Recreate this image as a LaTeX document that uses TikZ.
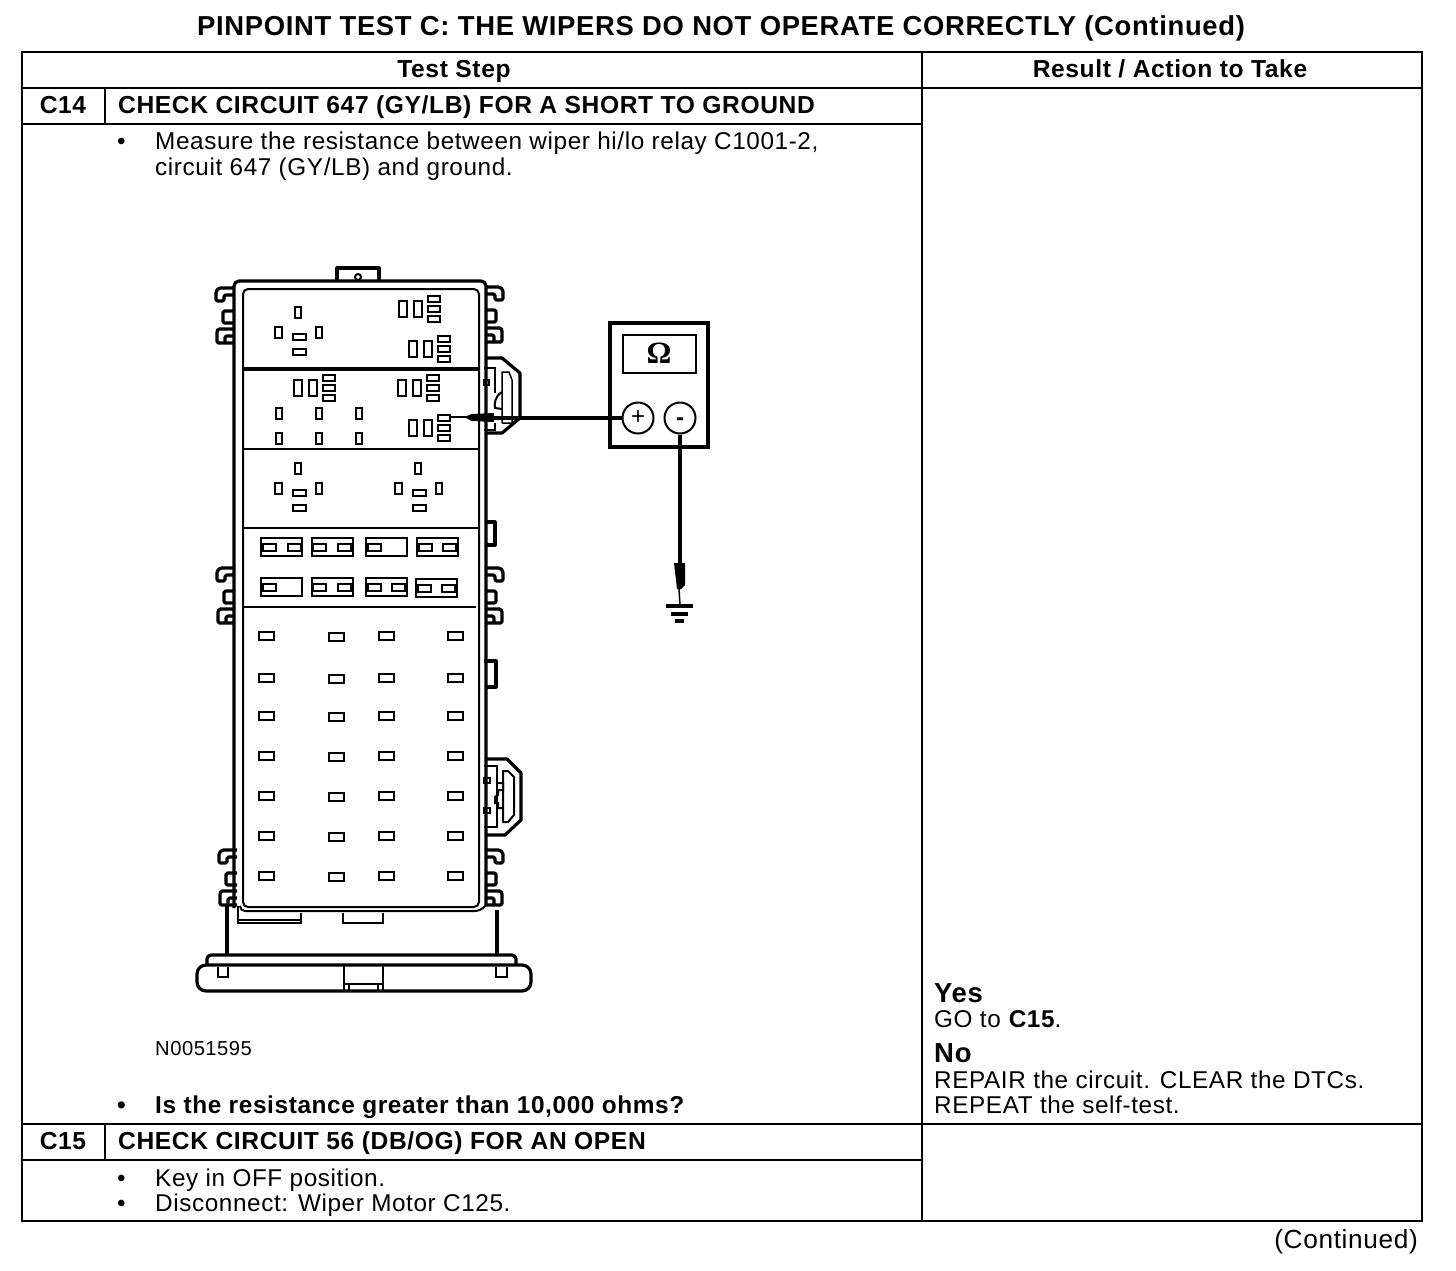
\documentclass[tikz,border=0pt]{standalone}
\usepackage{fontspec}
\setmainfont{Liberation Sans}[LetterSpace=2.5]
\newfontfamily\omegafont{Liberation Serif}
\tikzset{
  rule/.style={line width=2pt},
  txt/.style={anchor=base west, inner sep=0pt, font=\fontsize{24.3}{28}\selectfont},
  boldtxt/.style={txt, font=\fontsize{24.6}{28}\selectfont\bfseries},
  midtxt/.style={boldtxt, anchor=base},
  wall/.style={line width=3.2pt, line join=round},
  fine/.style={line width=1.5pt},
  pinbox/.style={line width=2pt},
}
% slot centred on x,y
\newcommand{\slot}[4]{\draw[pinbox] ({#1-#3/2},{#2-#4/2}) rectangle ({#1+#3/2},{#2+#4/2});}
\newcommand{\relaya}[2]{
  \slot{#1}{#2-20}{6}{11}
  \slot{#1-20}{#2}{7}{11}
  \slot{#1+21}{#2}{6}{11}
  \slot{#1+1}{#2+4.5}{13}{6}
  \slot{#1+1}{#2+20}{13}{6}
}
\newcommand{\relayb}[2]{
  \slot{#1}{#2}{8}{16}
  \slot{#1+15}{#2}{8}{16}
  \slot{#1+31}{#2-10}{12}{6}
  \slot{#1+31}{#2}{12}{6}
  \slot{#1+31}{#2+10}{12}{6}
}
% clips on the wall, sx=1 left side, sx=-1 right side
\newcommand{\clipset}[3]{
  \begin{scope}[shift={(#1,#2)}, xscale=#3, wall, rounded corners=1.5pt]
    \draw (0,0) -- (-15,0) -- (-18,3) -- (-18,13) -- (-10,13) -- (-10,7) -- (0,7);
    \draw (0,23) -- (-11,23) -- (-11,35) -- (0,35);
    \draw (0,41) -- (-16,41) -- (-17,43) -- (-17,55) -- (0,55);
    \draw (0,48) -- (-9,48) -- (-9,55);
  \end{scope}
}
\begin{document}
\begin{tikzpicture}[x=1pt, y=-1pt]
  \useasboundingbox (0,0) rectangle (1456,1270);

  % table
  \draw[rule] (22,52) rectangle (1422,1221);
  \draw[rule] (22,88) -- (1422,88);
  \draw[rule] (22,124) -- (922,124);
  \draw[rule] (22,1124) -- (1422,1124);
  \draw[rule] (22,1160) -- (922,1160);
  \draw[rule] (922,52) -- (922,1221);
  \draw[rule] (105,88) -- (105,124);
  \draw[rule] (105,1124) -- (105,1160);

  % text
  \node[midtxt, font=\fontsize{27.4}{30}\selectfont\bfseries] (title) at (721,35) {PINPOINT TEST C: THE WIPERS DO NOT OPERATE CORRECTLY (Continued)};
  \node[midtxt] (stephead) at (454,77) {Test Step};
  \node[midtxt] (resulthead) at (1170,77) {Result / Action to Take};
  \node[midtxt] (cfourteen) at (63,113) {C14};
  \node[boldtxt] (checkshort) at (118,113) {CHECK CIRCUIT 647 (GY/LB) FOR A SHORT TO GROUND};
  \node[txt] (bulleta) at (117,149) {•};
  \node[txt] (measurea) at (155,149) {Measure the resistance between wiper hi/lo relay C1001-2,};
  \node[txt] (measureb) at (155,175) {circuit 647 (GY/LB) and ground.};
  \node[txt, font=\fontsize{20.2}{23}\selectfont] (partno) at (155,1055) {N0051595};
  \node[boldtxt] (bulletb) at (117,1113) {•};
  \node[boldtxt, font=\fontsize{24.4}{28}\selectfont\bfseries] (question) at (155,1113) {Is the resistance greater than 10,000 ohms?};
  \node[boldtxt, font=\fontsize{27.5}{32}\selectfont\bfseries] (yes) at (934,1002) {Yes};
  \node[txt] (gotoc) at (934,1027) {GO to \textbf{C15}.};
  \node[boldtxt, font=\fontsize{27.5}{32}\selectfont\bfseries] (no) at (934,1062) {No};
  \node[txt] (repair) at (934,1088) {REPAIR the circuit. CLEAR the DTCs.};
  \node[txt] (repeat) at (934,1113) {REPEAT the self-test.};
  \node[midtxt] (cfifteen) at (63,1149) {C15};
  \node[boldtxt] (checkopen) at (118,1149) {CHECK CIRCUIT 56 (DB/OG) FOR AN OPEN};
  \node[txt] (bulletc) at (117,1186) {•};
  \node[txt] (keyin) at (155,1186) {Key in OFF position.};
  \node[txt] (bulletd) at (117,1211) {•};
  \node[txt] (disconnect) at (155,1211) {Disconnect: Wiper Motor C125.};
  \node[txt, anchor=base east, font=\fontsize{26.2}{30}\selectfont] (contd) at (1418,1248) {(Continued)};

  % fuse box walls
  \draw[wall, rounded corners=5pt] (234,908) -- (234,281) -- (486,281) -- (486,905);
  \draw[pinbox, rounded corners=5pt] (243,289) rectangle (479,907);
  \draw[pinbox, rounded corners=5pt] (240,906) -- (240,911) -- (480,911) -- (486,905);
  \draw[wall] (337,281) -- (337,268) -- (379,268) -- (379,281);
  \draw[pinbox] (358,277) circle (3);
  \draw[wall] (243,369) -- (479,369);
  \draw[pinbox] (243,449) -- (479,449);
  \draw[fine] (243,528) -- (479,528);
  \draw[pinbox] (243,607) -- (476,607);

  % clips and side tabs
  \clipset{234}{288}{1}
  \clipset{235}{568}{1}
  \clipset{237}{850}{1}
  \clipset{485}{287}{-1}
  \clipset{485}{568}{-1}
  \clipset{485}{850}{-1}
  \draw[wall] (485,522) -- (495,522) -- (495,545) -- (485,545);
  \draw[wall] (484,661) -- (496,661) -- (496,687) -- (485,687);

  % upper connector
  \draw[wall] (486,358) -- (502,358) -- (520,373) -- (520,418) -- (502,433) -- (486,433);
  \draw[fine] (484,368) -- (495,368) -- (495,393);
  \draw[fine] (484,380) rectangle (489,385);
  \draw[fine] (502,423) -- (502,372) -- (509,372) -- (512,380) -- (512,423) -- (502,423);
  \draw[pinbox] (502,392) .. controls (495,396) and (494,404) .. (495,408) -- (502,409);
  \draw[fine] (484,430) -- (495,430) -- (495,423);

  % lower connector
  \draw[wall] (485,759) -- (507,759) -- (521,773) -- (521,820) -- (505,835) -- (485,835);
  \draw[fine] (484,766) -- (497,766) -- (497,827) -- (484,827);
  \draw[fine] (484,778) rectangle (490,783);
  \draw[fine] (484,808) rectangle (490,813);
  \draw[pinbox] (503,771) -- (508,771) -- (514,777) -- (514,815) -- (508,822) -- (503,822) -- cycle;
  \draw[pinbox] (497,783) -- (503,783) -- (503,790) -- (498,790) -- (498,795) -- (495,797) -- (495,803) -- (498,803) -- (498,808) -- (503,808);

  % relays
  \relaya{298}{332}
  \relaya{298}{488}
  \relaya{418}{488}
  \relayb{403}{309}
  \relayb{413}{349}
  \relayb{298}{388}
  \relayb{402}{388}
  \relayb{413}{428}
  \foreach \px in {279,319,359} {
    \slot{\px}{413}{6}{11}
    \slot{\px}{438}{6}{11}
  }

  % fuses
  \draw[pinbox] (261,538) rectangle (302,556);
  \draw[pinbox] (312,538) rectangle (353,556);
  \draw[pinbox] (366,538) rectangle (407,556);
  \draw[pinbox] (417,538) rectangle (458,556);
  \draw[pinbox] (261,578) rectangle (302,596);
  \draw[pinbox] (312,578) rectangle (353,596);
  \draw[pinbox] (366,578) rectangle (407,596);
  \draw[pinbox] (416,579) rectangle (457,597);
  \foreach \px in {269,294,319,344,374,425,449} {
    \slot{\px}{547}{13}{7}
  }
  \foreach \px in {269,319,344,374,398} {
    \slot{\px}{587}{13}{7}
  }
  \slot{424}{588}{13}{7}
  \slot{448}{588}{13}{7}

  % lower slots
  \foreach \py in {636,678,716,756,796,836,876} {
    \slot{266}{\py}{15}{8}
    \slot{336}{\py+1}{15}{8}
    \slot{386}{\py}{15}{8}
    \slot{455}{\py}{15}{8}
  }

  % bottom of the box
  \draw[wall] (227,905) -- (227,955);
  \draw[wall] (497,910) -- (497,955);
  \draw[pinbox] (238,906) -- (238,923) -- (301,923) -- (301,913);
  \draw[fine] (238,920) -- (301,920);
  \draw[pinbox] (343,913) -- (343,923) -- (383,923) -- (383,913);
  \draw[wall, rounded corners=4pt] (207,965) -- (207,955) -- (516,955) -- (516,965);
  \draw[wall, rounded corners=9pt] (197,965) rectangle (531,991);
  \draw[pinbox] (218,967) -- (218,977) -- (228,977) -- (228,967);
  \draw[pinbox] (496,967) -- (496,977) -- (507,977) -- (507,967);
  \draw[pinbox] (344,966) -- (344,990);
  \draw[pinbox] (383,966) -- (383,990);
  \draw[pinbox] (344,984) -- (383,984);
  \draw[pinbox] (349,984) -- (349,990);
  \draw[pinbox] (378,984) -- (378,990);

  % meter
  \draw[line width=3.5pt] (610,323) rectangle (708,447);
  \draw[line width=2.4pt] (623,335) rectangle (696,373);
  \node[inner sep=0pt, font=\omegafont\fontsize{31}{32}\selectfont\bfseries] (omega) at (659,353) {Ω};
  \node[draw, circle, line width=2pt, minimum size=31pt, inner sep=0pt, font=\fontsize{24}{24}\selectfont] (plus) at (638,418) {+};
  \node[draw, circle, line width=2pt, minimum size=31pt, inner sep=0pt, font=\fontsize{24}{24}\selectfont\bfseries] (minus) at (680,418) {\vphantom{+}-};

  % probes and ground
  \coordinate (tipa) at (451,417);
  \coordinate (backa) at (493,418);
  \coordinate (backb) at (680,563);
  \coordinate (gnd) at (680,606);
  \draw[wall] (plus) -- (backa);
  \draw[fine] (tipa) -- (467,417);
  \fill (464,417) -- (472,414) -- (494,413) -- (494,422) -- (472,421) -- cycle;
  \draw[wall] (minus) -- (backb);
  \fill (674,563) -- (685,563) -- (685,585) -- (681,589) -- (677,589) -- cycle;
  \draw[fine] (679,588) -- (gnd);
  \draw[wall] (666,606) -- (693,606);
  \draw[wall] (671,614) -- (688,614);
  \draw[wall] (675,621) -- (684,621);
\end{tikzpicture}
\end{document}
